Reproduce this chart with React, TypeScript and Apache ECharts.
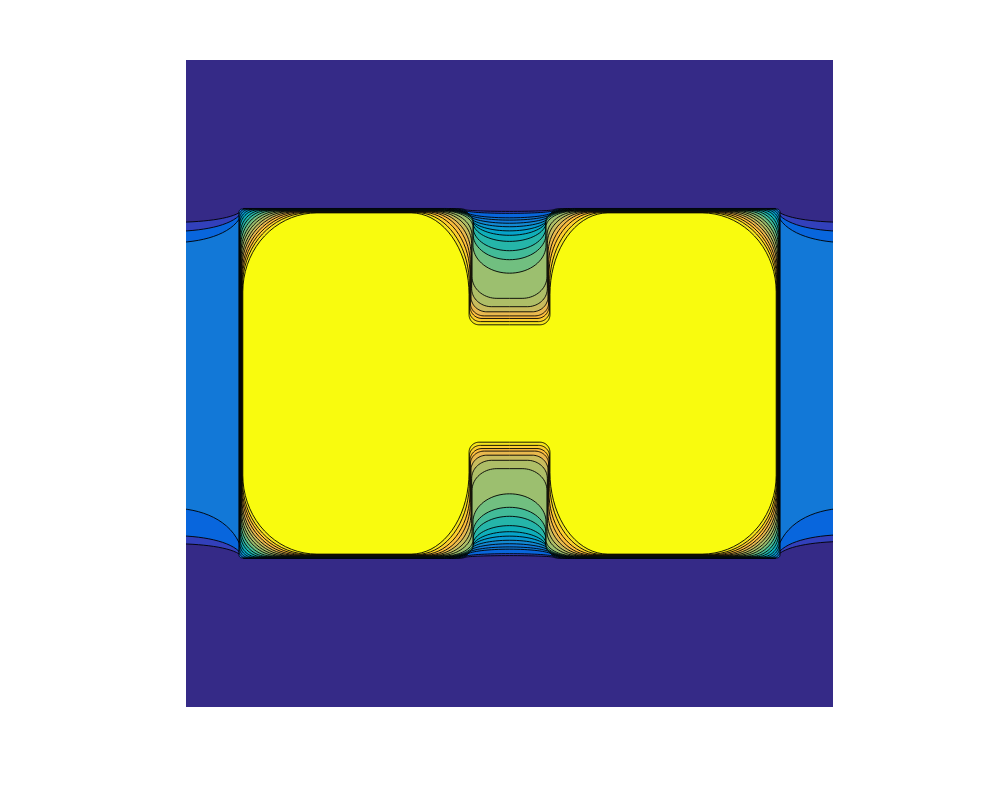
import React, { useEffect, useRef } from 'react';
import * as echarts from 'echarts';

// Filled-contour field on the square [-1, 1] x [-1, 1].
// Level k (1..19) is the boundary of the region where the field is at least level k.
const levels = [1, 2, 3, 4, 5, 6, 7, 8, 9, 10, 11, 12, 13, 14, 15, 16, 17, 18, 19];

// band colours (band 0 = background, band 19 = top level)
const bandColors = [
  '#352a87', '#3240bb', '#0866dd', '#1278d7', '#1079da', '#1389d3', '#0998d1',
  '#06a4ca', '#0faeb9', '#25b5a9', '#42bb98', '#71bf80', '#9cbf6f', '#aebe67',
  '#c8bc5d', '#e9b94e', '#fdbe3d', '#fcce2e', '#f5e41d', '#f9fb0e',
];

// high block (both lobes together)
const blockHalfWidth = 0.838;
const blockHalfHeight = 0.541;

// central notches (top and bottom), per level
const gapDepth = [0.009, 0.015, 0.028, 0.034, 0.043, 0.053, 0.065, 0.077, 0.096, 0.124, 0.151, 0.192, 0.269, 0.294, 0.309, 0.321, 0.328, 0.337, 0.346];
const gapWallHalfWidth = [0.139, 0.136, 0.133, 0.13, 0.127, 0.124, 0.121, 0.117, 0.114, 0.113, 0.113, 0.113, 0.116, 0.117, 0.119, 0.121, 0.122, 0.124, 0.125];
const gapTopHalfWidth = [0.201, 0.201, 0.201, 0.201, 0.201, 0.201, 0.201, 0.201, 0.201, 0.201, 0.201, 0.204, 0.216, 0.229, 0.241, 0.253, 0.269, 0.287, 0.304];
const gapFlareDrop = [0.003, 0.006, 0.009, 0.012, 0.015, 0.019, 0.022, 0.025, 0.028, 0.031, 0.037, 0.049, 0.074, 0.099, 0.13, 0.161, 0.192, 0.223, 0.253];
const gapCornerX = [0.139, 0.136, 0.133, 0.13, 0.127, 0.124, 0.121, 0.117, 0.114, 0.113, 0.113, 0.113, 0.077, 0.062, 0.049, 0.043, 0.037, 0.034, 0.031];
const gapCornerY = [0.006, 0.009, 0.019, 0.022, 0.028, 0.034, 0.043, 0.053, 0.062, 0.074, 0.08, 0.087, 0.068, 0.056, 0.046, 0.04, 0.037, 0.034, 0.031];

// outer corner rounding of the lobes, per level
const cornerRadiusX = [0, 0, 0, 0.009, 0.019, 0.028, 0.04, 0.053, 0.068, 0.083, 0.099, 0.117, 0.133, 0.148, 0.164, 0.179, 0.195, 0.21, 0.229];
const cornerRadiusY = [0, 0, 0, 0.009, 0.019, 0.031, 0.043, 0.056, 0.074, 0.09, 0.108, 0.127, 0.142, 0.161, 0.176, 0.195, 0.21, 0.226, 0.244];
const edgeInset = [0, 0, 0.0009, 0.0019, 0.0026, 0.0034, 0.0042, 0.0049, 0.0057, 0.0065, 0.0073, 0.008, 0.0088, 0.0096, 0.0104, 0.0111, 0.0119, 0.0127, 0.0136];

// side tongues (levels 1..3): how far each contour lies from the block edge at the square's border
const sideTopLeft = [0.043, 0.071, 0.105];
const sideBottomLeft = [0.046, 0.071, 0.155];
const sideTopRight = [0.043, 0.071, 0.105];
const sideBottomRight = [0.053, 0.074, 0.155];
const sideJoinInset = 0.016;

type P = [number, number];
const N = 18;

function bezier(p0: P, p1: P, p2: P, p3: P): P[] {
  const out: P[] = [];
  for (let i = 0; i <= N; i++) {
    const t = i / N, u = 1 - t;
    out.push([
      u * u * u * p0[0] + 3 * u * u * t * p1[0] + 3 * u * t * t * p2[0] + t * t * t * p3[0],
      u * u * u * p0[1] + 3 * u * u * t * p1[1] + 3 * u * t * t * p2[1] + t * t * t * p3[1],
    ]);
  }
  return out;
}

function notch(i: number, yEdge: number, dir: number): P[] {
  const a = gapTopHalfWidth[i];
  const w = gapWallHalfWidth[i];
  const rh = a - w;
  const rv = gapFlareDrop[i];
  const cx = gapCornerX[i];
  const cy = gapCornerY[i];
  const wall = Math.max(0, gapDepth[i] - rv - cy);
  const half: P[] = [];
  for (let j = 0; j <= N; j++) {
    const th = (j / N) * Math.PI / 2;
    half.push([-a + rh * Math.sin(th), yEdge + dir * rv - dir * rv * Math.cos(th)]);
  }
  const yc = yEdge + dir * (rv + wall);
  for (let j = 0; j <= N; j++) {
    const ph = (j / N) * Math.PI / 2;
    half.push([-w + cx - cx * Math.cos(ph), yc + dir * cy * Math.sin(ph)]);
  }
  half.push([0, yc + dir * cy]);
  const right = half.slice(0, -1).reverse().map(([x, y]) => [-x, y] as P);
  return half.concat(right);
}

function levelRegion(k: number): P[] {
  const i = k - 1;
  const e = edgeInset[i];
  const xl = -blockHalfWidth + e, xr = blockHalfWidth - e;
  const t = blockHalfHeight - e, b = -blockHalfHeight + e;
  const pts: P[] = [];
  const topNotch = notch(i, t, -1);
  const bottomNotch = notch(i, b, 1).reverse();
  if (k <= 3) {
    const xcL = -blockHalfWidth + sideJoinInset;
    const xcR = blockHalfWidth - sideJoinInset;
    const dtl = sideTopLeft[i], dbl = sideBottomLeft[i], dtr = sideTopRight[i], dbr = sideBottomRight[i];
    pts.push(...bezier([-1.05, t - dtl], [-0.94, t - dtl], [xcL - 0.015, t - 0.7 * dtl], [xcL, t]));
    pts.push(...topNotch);
    pts.push(...bezier([xcR, t], [xcR + 0.015, t - 0.7 * dtr], [0.94, t - dtr], [1.05, t - dtr]));
    pts.push(...bezier([1.05, b + dbr], [0.94, b + dbr], [xcR + 0.015, b + 0.7 * dbr], [xcR, b]));
    pts.push(...bottomNotch);
    pts.push(...bezier([xcL, b], [xcL - 0.015, b + 0.7 * dbl], [-0.94, b + dbl], [-1.05, b + dbl]));
    return pts;
  }
  const rx = cornerRadiusX[i], ry = cornerRadiusY[i];
  const arc = (f: (th: number) => P) => {
    for (let j = 0; j <= N; j++) pts.push(f((j / N) * Math.PI / 2));
  };
  arc((th) => [xl + rx - rx * Math.cos(th), t - ry + ry * Math.sin(th)]);
  pts.push(...topNotch);
  arc((th) => [xr - rx + rx * Math.sin(th), t - ry + ry * Math.cos(th)]);
  arc((th) => [xr - rx + rx * Math.cos(th), b + ry - ry * Math.sin(th)]);
  pts.push(...bottomNotch);
  arc((th) => [xl + rx - rx * Math.sin(th), b + ry - ry * Math.cos(th)]);
  return pts;
}

export default function App() {
  const ref = useRef<HTMLDivElement>(null);
  useEffect(() => {
    if (!ref.current) return;
    const chart = echarts.init(ref.current, undefined, { renderer: 'svg' });
    const data = [[0, 0, 0], ...levels.map((k) => [k, 0, 0])];
    chart.setOption({
      animation: false,
      backgroundColor: '#ffffff',
      grid: { left: 186, top: 60, width: 647, height: 647 },
      xAxis: { type: 'value', min: -1, max: 1, show: false },
      yAxis: { type: 'value', min: -1, max: 1, show: false },
      series: [
        {
          type: 'custom',
          coordinateSystem: 'cartesian2d',
          clip: true,
          silent: true,
          encode: { x: 1, y: 2 },
          data,
          renderItem: (params: any, api: any) => {
            const k = api.value(0) as number;
            if (k === 0) {
              const corners: P[] = [[-1.05, -1.05], [1.05, -1.05], [1.05, 1.05], [-1.05, 1.05]];
              return {
                type: 'polygon',
                shape: { points: corners.map((p) => api.coord(p)) },
                style: { fill: bandColors[0], stroke: 'none' },
              };
            }
            const pts = levelRegion(k).map((p) => api.coord(p));
            return {
              type: 'polygon',
              shape: { points: pts },
              style: { fill: bandColors[k], stroke: '#000000', lineWidth: 0.9 },
            };
          },
        },
      ],
    });
    return () => chart.dispose();
  }, []);
  return <div ref={ref} style={{ position: 'absolute', left: 0, top: 0, width: 985, height: 794 }} />;
}
